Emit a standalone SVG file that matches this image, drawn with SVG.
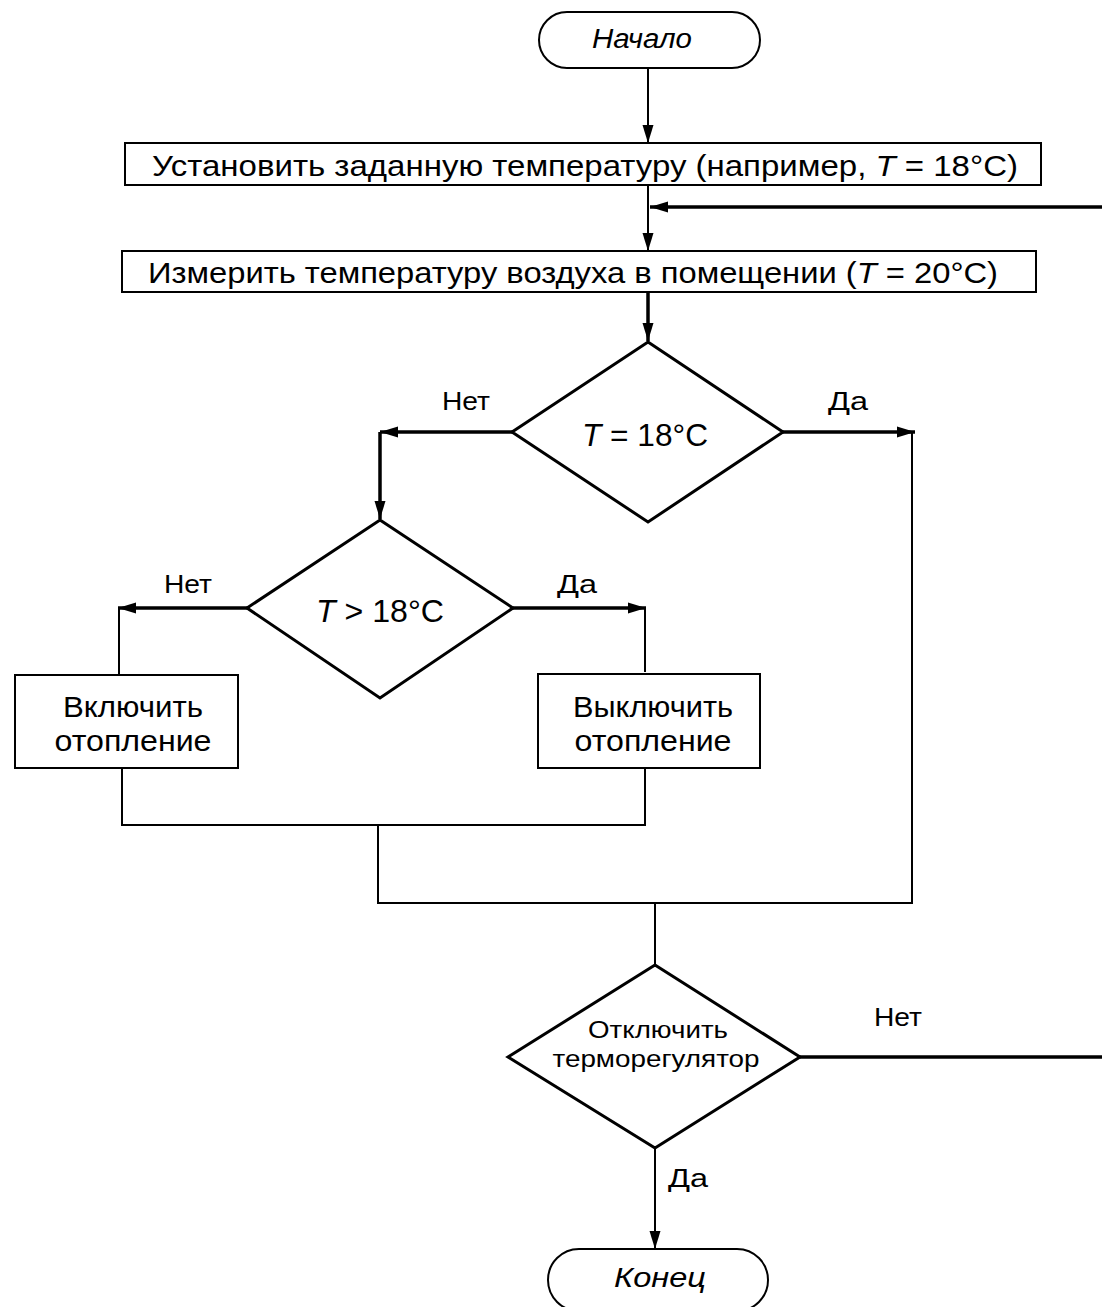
<svg xmlns="http://www.w3.org/2000/svg" width="1102" height="1307" viewBox="0 0 1102 1307">
<style>
.shape{fill:#fff;stroke:#000;stroke-width:2}
.dia{fill:#fff;stroke:#000;stroke-width:3}
.t{font-family:"Liberation Sans",Arial,sans-serif;fill:#000;text-anchor:middle}
.lbl{font-size:26px}
.thin{fill:none;stroke:#000;stroke-width:2}
.thick{fill:none;stroke:#000;stroke-width:3.5}
.i{font-style:italic}
</style>
<defs>
<marker id="ah" markerUnits="userSpaceOnUse" markerWidth="20" markerHeight="12" refX="18" refY="6" orient="auto">
<path d="M0,0.5 L18,6 L0,11.5 Z" fill="#000"/>
</marker>
</defs>
<rect width="1102" height="1307" fill="#fff"/>
<g id="connectors">
<line class="thin" x1="648" y1="68" x2="648" y2="143" marker-end="url(#ah)"/>
<line class="thin" x1="648" y1="185" x2="648" y2="251" marker-end="url(#ah)"/>
<line class="thick" x1="1102" y1="207" x2="650" y2="207" marker-end="url(#ah)"/>
<line class="thick" x1="648" y1="292" x2="648" y2="341" marker-end="url(#ah)"/>
<line class="thick" x1="512" y1="432" x2="380" y2="432" marker-end="url(#ah)"/>
<line class="thick" x1="380" y1="432" x2="380" y2="519" marker-end="url(#ah)"/>
<line class="thick" x1="783" y1="432" x2="915" y2="432" marker-end="url(#ah)"/>
<line class="thin" x1="912" y1="432" x2="912" y2="903"/>
<line class="thick" x1="247" y1="608" x2="118" y2="608" marker-end="url(#ah)"/>
<line class="thin" x1="119" y1="608" x2="119" y2="675"/>
<line class="thick" x1="513" y1="608" x2="646" y2="608" marker-end="url(#ah)"/>
<line class="thin" x1="645" y1="608" x2="645" y2="672"/>
<polyline class="thin" points="122,768 122,825 645,825 645,768"/>
<line class="thin" x1="378" y1="825" x2="378" y2="903"/>
<line class="thin" x1="377" y1="903" x2="913" y2="903"/>
<line class="thin" x1="655" y1="903" x2="655" y2="965"/>
<line class="thick" x1="800" y1="1057" x2="1102" y2="1057"/>
<line class="thin" x1="655" y1="1148" x2="655" y2="1249" marker-end="url(#ah)"/>
</g>
<g id="start">
<rect class="shape" x="539" y="12" width="221" height="56" rx="28"/>
<text class="t i" x="642" y="48" font-size="27" textLength="100" lengthAdjust="spacingAndGlyphs">Начало</text>
</g>
<g id="set">
<rect class="shape" x="125" y="143" width="916" height="42"/>
<text class="t" x="585" y="176" font-size="30" textLength="866" lengthAdjust="spacingAndGlyphs">Установить заданную температуру (например, <tspan class="i">T</tspan> = 18°C)</text>
</g>
<g id="measure">
<rect class="shape" x="122" y="251" width="914" height="41"/>
<text class="t" x="573" y="283" font-size="30" textLength="850" lengthAdjust="spacingAndGlyphs">Измерить температуру воздуха в помещении (<tspan class="i">T</tspan> = 20°C)</text>
</g>
<g id="dec1">
<polygon class="dia" points="648,342 783,432 648,522 512,432"/>
<text class="t" x="645" y="446" font-size="32" textLength="126" lengthAdjust="spacingAndGlyphs"><tspan class="i">T</tspan> = 18°C</text>
<text class="t lbl" x="466" y="410" textLength="48" lengthAdjust="spacingAndGlyphs">Нет</text>
<text class="t lbl" x="848" y="410" textLength="40" lengthAdjust="spacingAndGlyphs">Да</text>
</g>
<g id="dec2">
<polygon class="dia" points="380,520 513,608 380,698 247,608"/>
<text class="t" x="380" y="622" font-size="32" textLength="128" lengthAdjust="spacingAndGlyphs"><tspan class="i">T</tspan> &gt; 18°C</text>
<text class="t lbl" x="188" y="593" textLength="48" lengthAdjust="spacingAndGlyphs">Нет</text>
<text class="t lbl" x="577" y="593" textLength="40" lengthAdjust="spacingAndGlyphs">Да</text>
</g>
<g id="on">
<rect class="shape" x="15" y="675" width="223" height="93"/>
<text class="t" x="133" y="717" font-size="29" textLength="140" lengthAdjust="spacingAndGlyphs">Включить</text>
<text class="t" x="133" y="751" font-size="29" textLength="157" lengthAdjust="spacingAndGlyphs">отопление</text>
</g>
<g id="off">
<rect class="shape" x="538" y="674" width="222" height="94"/>
<text class="t" x="653" y="717" font-size="29" textLength="160" lengthAdjust="spacingAndGlyphs">Выключить</text>
<text class="t" x="653" y="751" font-size="29" textLength="157" lengthAdjust="spacingAndGlyphs">отопление</text>
</g>
<g id="dec3">
<polygon class="dia" points="655,965 800,1057 655,1148 508,1057"/>
<text class="t" x="658" y="1038" font-size="24" textLength="140" lengthAdjust="spacingAndGlyphs">Отключить</text>
<text class="t" x="656" y="1067" font-size="24" textLength="207" lengthAdjust="spacingAndGlyphs">терморегулятор</text>
<text class="t lbl" x="898" y="1026" textLength="48" lengthAdjust="spacingAndGlyphs">Нет</text>
<text class="t lbl" x="688" y="1187" textLength="40" lengthAdjust="spacingAndGlyphs">Да</text>
</g>
<g id="end">
<rect class="shape" x="548" y="1249" width="220" height="62" rx="31"/>
<text class="t i" x="660" y="1287" font-size="28" textLength="92" lengthAdjust="spacingAndGlyphs">Конец</text>
</g>
</svg>
